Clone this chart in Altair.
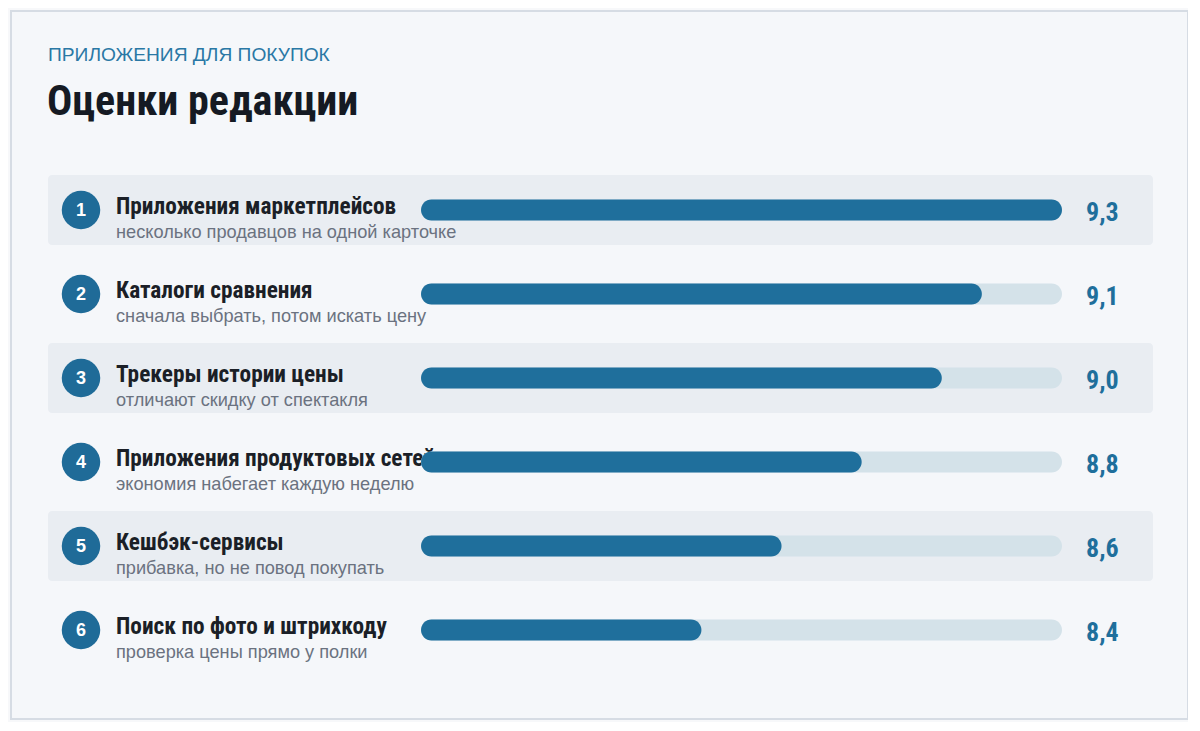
"""Editorial ratings of shopping apps, drawn as a ranked bar list."""

import altair as alt
import pandas as pd

EYEBROW = "ПРИЛОЖЕНИЯ ДЛЯ ПОКУПОК"
TITLE = "Оценки редакции"

RANKS = [1, 2, 3, 4, 5, 6]
NAMES = [
    "Приложения маркетплейсов",
    "Каталоги сравнения",
    "Трекеры истории цены",
    "Приложения продуктовых сетей",
    "Кешбэк-сервисы",
    "Поиск по фото и штрихкоду",
]
NOTES = [
    "несколько продавцов на одной карточке",
    "сначала выбрать, потом искать цену",
    "отличают скидку от спектакля",
    "экономия набегает каждую неделю",
    "прибавка, но не повод покупать",
    "проверка цены прямо у полки",
]
SCORES = [9.3, 9.1, 9.0, 8.8, 8.6, 8.4]
SCALE_DOMAIN = [7.7, 9.3]

PLOT_WIDTH = 1105
PLOT_HEIGHT = 504
CONDENSED = "Roboto Condensed"
REGULAR = "Liberation Sans"
BLUE = "#1f6f9c"

df = pd.DataFrame({"rank": RANKS, "name": NAMES, "note": NOTES, "score": SCORES})
df["lo"] = SCALE_DOMAIN[0]
df["hi"] = SCALE_DOMAIN[1]
df["score_txt"] = df["score"].map(lambda v: f"{v:.1f}".replace(".", ","))
df["striped"] = df["rank"] % 2 == 1

x_scale = alt.Scale(domain=SCALE_DOMAIN, range=[373, 1014], zero=False)
y_enc = alt.Y(
    "rank:O",
    axis=None,
    scale=alt.Scale(paddingInner=0, paddingOuter=0),
)

base = alt.Chart(df)
first = base.transform_filter("datum.rank == 1")

# card behind everything
card = first.mark_rect(fill="#f5f7fa", stroke="#d6dce4", strokeWidth=2).encode(
    x=alt.value(-37), x2=alt.value(1140), y=alt.value(-157), y2=alt.value(551)
)

# header texts
eyebrow = first.mark_text(
    font=REGULAR, fontSize=19.2, color="#2a78a5", align="left",
    baseline="alphabetic",
).encode(x=alt.value(0), y=alt.value(-107), text=alt.value(EYEBROW))
title = first.mark_text(
    font=CONDENSED, fontSize=42, fontWeight="bold", color="#151a23",
    align="left", baseline="alphabetic",
).encode(x=alt.value(-1), y=alt.value(-53), text=alt.value(TITLE))

stripes = base.transform_filter("datum.striped").mark_bar(
    size=70, color="#e9edf2", cornerRadius=4
).encode(x=alt.value(0), x2=alt.value(PLOT_WIDTH), y=y_enc)

badges = base.mark_circle(size=1480, color="#1f6b98", opacity=1).encode(
    x=alt.value(33), y=y_enc
)
badge_nums = base.mark_text(
    font=REGULAR, fontSize=18, fontWeight="bold", color="white", dy=1,
).encode(x=alt.value(33), y=y_enc, text="rank:N")

labels = base.mark_text(
    font=CONDENSED, fontSize=23.3, fontWeight="bold", color="#1b1f27",
    align="left", baseline="alphabetic", dy=4,
).encode(x=alt.value(68), y=y_enc, text="name:N")

notes = base.mark_text(
    font=REGULAR, fontSize=18.2, color="#6b7280", align="left",
    baseline="alphabetic", dy=28,
).encode(x=alt.value(68), y=y_enc, text="note:N")

track = base.mark_bar(size=21, color="#d4e2e9", cornerRadius=10.5).encode(
    x=alt.X("lo:Q", scale=x_scale, axis=None), x2="hi:Q", y=y_enc
)
fill = base.mark_bar(size=21, color=BLUE, cornerRadius=10.5).encode(
    x=alt.X("lo:Q", scale=x_scale, axis=None), x2="score:Q", y=y_enc
)

values = base.mark_text(
    font=CONDENSED, fontSize=26, fontWeight="bold", color=BLUE, align="left",
    baseline="alphabetic", dy=11,
).encode(x=alt.value(1038), y=y_enc, text="score_txt:N")

chart = (
    alt.layer(
        card, eyebrow, title, stripes, badges, badge_nums,
        labels, notes, track, fill, values,
    )
    .properties(
        width=PLOT_WIDTH,
        height=PLOT_HEIGHT,
        autosize=alt.AutoSizeParams(type="none"),
        padding={"left": 40, "top": 160, "right": 35, "bottom": 50},
    )
    .configure(background="#f7f8fa")
    .configure_view(stroke=None)
)

chart.save("out.html", embed_options={"renderer": "svg", "actions": False})
